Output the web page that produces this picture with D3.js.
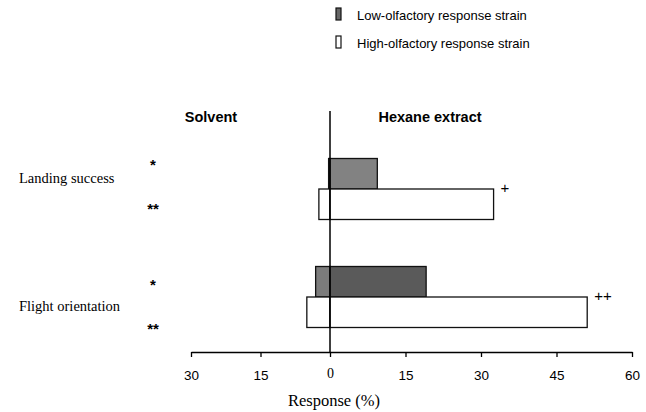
<!DOCTYPE html>
<html>
<head>
<meta charset="utf-8">
<script src="https://cdn.jsdelivr.net/npm/d3@7"></script>
<style>
  body { margin: 0; background: #fff; }
  .sans { font-family: "Liberation Sans", Arial, sans-serif; }
  .serif { font-family: "Liberation Serif", "Times New Roman", serif; }
</style>
</head>
<body>
<svg id="chart" width="646" height="412"></svg>
<script>
// data (response %)
var categories = ["Landing success", "Flight orientation"]
var strains = ["low", "high"]
var strainLabels = ["Low-olfactory response strain", "High-olfactory response strain"]
// solvent responses (drawn to the left), hexane extract responses (to the right)
var solventLow = [0.3, 3.1]
var solventHigh = [2.4, 5.0]
var hexaneLow = [9.4, 19.1]
var hexaneHigh = [32.5, 51.1]
var sigStrain = ["*", "*"]        // marks beside low strain rows
var sigStrainHigh = ["**", "**"]  // marks beside high strain rows
var sigHexane = ["+", "++"]       // marks at end of high strain hexane bars
var tickValues = [-30, -15, 0, 15, 30, 45, 60]

var svg = d3.select("#chart")

// the printed axis is slightly stretched on the right hand side
var x = d3.scaleLinear()
        .domain([-30, 0, 60])
        .range([191, 330, 632])

var yCat = d3.scalePoint()
        .domain(categories)
        .range([189, 297])

// labels and star marks on the left are not exactly aligned with the bars
var yLabel = d3.scalePoint()
        .domain(categories)
        .range([178, 306])
var yMark = d3.scalePoint()
        .domain(categories)
        .range([185, 305])

var yStrain = d3.scaleBand()
        .domain(strains)
        .range([-30.5, 30.5])

var rows = []
categories.forEach(function(c, i) {
    rows.push({cat: c, strain: "low", solvent: solventLow[i], hexane: hexaneLow[i]})
    rows.push({cat: c, strain: "high", solvent: solventHigh[i], hexane: hexaneHigh[i]})
})

var lowFill = ["#828282", "#5a5a5a"]   // hexane bar of low strain
var lowSolventFill = ["#828282", "#7c7c7c"]

// solvent bars
svg.append("g").selectAll("rect")
        .data(rows)
        .enter()
        .append("rect")
        .attr("x", d => x(-d.solvent))
        .attr("y", d => yCat(d.cat) + yStrain(d.strain))
        .attr("width", d => x(0) - x(-d.solvent))
        .attr("height", yStrain.bandwidth())
        .attr("fill", d => d.strain == "low" ? lowSolventFill[categories.indexOf(d.cat)] : "#fff")
        .attr("stroke", "#111")
        .attr("stroke-width", 1.3)

// hexane bars
svg.append("g").selectAll("rect")
        .data(rows)
        .enter()
        .append("rect")
        .attr("x", x(0))
        .attr("y", d => yCat(d.cat) + yStrain(d.strain))
        .attr("width", d => x(d.hexane) - x(0))
        .attr("height", yStrain.bandwidth())
        .attr("fill", d => d.strain == "low" ? lowFill[categories.indexOf(d.cat)] : "#fff")
        .attr("stroke", "#111")
        .attr("stroke-width", 1.3)

// zero line
svg.append("line")
        .attr("x1", x(0)).attr("x2", x(0))
        .attr("y1", 111).attr("y2", 352)
        .attr("stroke", "#000")
        .attr("stroke-width", 1.5)

// x axis
var axis = svg.append("g")
        .attr("transform", "translate(0,352)")
        .call(d3.axisBottom(x)
            .tickValues(tickValues)
            .tickSize(5)
            .tickSizeOuter(0)
            .tickFormat(d => Math.abs(d)))
axis.select(".domain").attr("stroke", "#000").attr("stroke-width", 1.3)
axis.selectAll(".tick line").attr("stroke", "#000").attr("stroke-width", 1.3)
axis.selectAll(".tick text")
        .attr("class", d => d == 0 ? "serif" : "sans")
        .attr("y", d => d == 0 ? 22 : 24)
        .attr("dy", "0.32em")
        .style("font-size", d => d == 0 ? "14px" : "13.5px")
        .attr("fill", "#000")

svg.append("text")
        .attr("class", "serif")
        .attr("x", 334).attr("y", 406)
        .style("text-anchor", "middle")
        .style("font-size", "16.5px")
        .text("Response (%)")

// category labels
svg.selectAll(".catlabel")
        .data(categories)
        .enter()
        .append("text")
        .attr("class", "serif catlabel")
        .attr("x", 19)
        .attr("y", d => yLabel(d))
        .attr("dy", "0.35em")
        .style("font-size", "14.5px")
        .text(d => d)

// significance marks
categories.forEach(function(c, i) {
    svg.append("text").attr("class", "sans")
        .attr("x", 153).attr("y", yMark(c) - 22)
        .attr("dy", "0.45em")
        .style("text-anchor", "middle").style("font-size", "15px").style("font-weight", "bold")
        .text(sigStrain[i])
    svg.append("text").attr("class", "sans")
        .attr("x", 153).attr("y", yMark(c) + 22)
        .attr("dy", "0.45em")
        .style("text-anchor", "middle").style("font-size", "15px").style("font-weight", "bold")
        .text(sigStrainHigh[i])
    svg.append("text").attr("class", "sans")
        .attr("x", x(hexaneHigh[i]) + 7).attr("y", yCat(c) + 4)
        .style("font-size", "15px")
        .text(sigHexane[i])
})

// panel headers
svg.append("text").attr("class", "sans")
        .attr("x", 211).attr("y", 122)
        .style("text-anchor", "middle").style("font-size", "14.5px").style("font-weight", "bold")
        .text("Solvent")
svg.append("text").attr("class", "sans")
        .attr("x", 430).attr("y", 122)
        .style("text-anchor", "middle").style("font-size", "14.5px").style("font-weight", "bold")
        .text("Hexane extract")

// legend
var legend = svg.append("g")
legend.selectAll("rect")
        .data(strainLabels)
        .enter()
        .append("rect")
        .attr("x", 336)
        .attr("y", (d, i) => 8 + i * 28)
        .attr("width", 5)
        .attr("height", 12)
        .attr("fill", (d, i) => i == 0 ? "#666" : "#fff")
        .attr("stroke", "#111")
        .attr("stroke-width", 1.2)
legend.selectAll("text")
        .data(strainLabels)
        .enter()
        .append("text")
        .attr("class", "sans")
        .attr("x", 357)
        .attr("y", (d, i) => 15 + i * 28)
        .attr("dy", "0.35em")
        .style("font-size", "13px")
        .text(d => d)
</script>
</body>
</html>
